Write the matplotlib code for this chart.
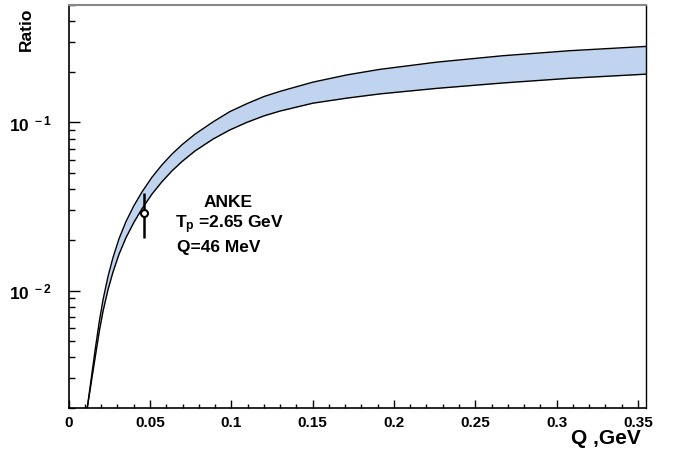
import math
import matplotlib
matplotlib.use('Agg')
import matplotlib.pyplot as plt
from matplotlib.ticker import MultipleLocator, LogLocator, FuncFormatter, NullFormatter

plt.rcParams['font.family'] = ['Liberation Sans', 'DejaVu Sans']
plt.rcParams['font.weight'] = 'bold'
plt.rcParams['mathtext.fontset'] = 'custom'
plt.rcParams['mathtext.rm'] = 'Liberation Sans:bold'
plt.rcParams['mathtext.it'] = 'Liberation Sans:bold'
plt.rcParams['mathtext.bf'] = 'Liberation Sans:bold'

# Q grid (GeV) shared by both edges of the band
band_q = [0.0114, 0.0162, 0.0188, 0.0211, 0.0242, 0.0272, 0.0309, 0.0352, 0.0401,
          0.0451, 0.0512, 0.0573, 0.0635, 0.0696, 0.0776, 0.0887, 0.0990, 0.1096,
          0.1200, 0.1299, 0.1502, 0.1711, 0.1913, 0.2264, 0.2669, 0.3081, 0.3560]
# upper edge of the band
upper_r = [0.0020, 0.00440, 0.00653, 0.00881, 0.01216, 0.01567, 0.02028, 0.02570, 0.03199,
           0.03864, 0.04721, 0.05585, 0.06486, 0.07362, 0.08511, 0.1007, 0.1159, 0.1294,
           0.1426, 0.1531, 0.1738, 0.1919, 0.2070, 0.2286, 0.2495, 0.2673, 0.2838]
# lower edge of the band
lower_r = [0.0020, 0.00396, 0.00571, 0.00753, 0.01016, 0.01285, 0.01641, 0.02061, 0.02547,
           0.03069, 0.03750, 0.04436, 0.05152, 0.05848, 0.06761, 0.0796, 0.0902, 0.1002,
           0.1094, 0.1169, 0.1303, 0.1396, 0.1479, 0.1596, 0.1718, 0.1832, 0.1941]

# ANKE point
anke_q = [0.046]
anke_r = [0.029]
anke_err_lo = [0.0086]
anke_err_hi = [0.0088]

fig = plt.figure(figsize=(6.83, 4.59), dpi=100)
ax = fig.add_axes([0.1006, 0.1111, 0.8452, 0.878])

ax.fill_between(band_q, lower_r, upper_r, color='#c0d4ef', lw=0)
ax.plot(band_q, upper_r, color='black', lw=1.0)
ax.plot(band_q, lower_r, color='black', lw=1.0)

ax.errorbar(anke_q, anke_r, yerr=[anke_err_lo, anke_err_hi], fmt='o', ms=5,
            mfc='white', mec='black', mew=1.5, ecolor='black', elinewidth=1.8, capsize=0)

ax.set_yscale('log')
ax.set_xlim(0, 0.355)
ax.set_ylim(0.002, 0.5)

ax.xaxis.set_major_locator(MultipleLocator(0.05))
ax.xaxis.set_minor_locator(MultipleLocator(0.01))
ax.xaxis.set_major_formatter(FuncFormatter(lambda v, p: '%g' % round(v, 3)))
ax.yaxis.set_major_locator(LogLocator(base=10))
ax.yaxis.set_minor_locator(LogLocator(base=10, subs=range(2, 10)))
ax.yaxis.set_minor_formatter(NullFormatter())

def ylab(v, p):
    e = int(round(math.log10(v)))
    return r'$10^{\ %d}$' % e

ax.yaxis.set_major_formatter(FuncFormatter(ylab))

ax.tick_params(axis='x', which='major', direction='in', length=6, width=1, labelsize=11, pad=6, top=False)
ax.tick_params(axis='x', which='minor', direction='in', length=3, width=1, top=False)
ax.tick_params(axis='y', which='major', direction='in', length=8, width=1, labelsize=12.5, pad=12, right=False)
ax.tick_params(axis='y', which='minor', direction='in', length=4.5, width=1, right=False)

ax.spines['left'].set_linewidth(1.2)
ax.spines['bottom'].set_linewidth(1.2)
ax.spines['right'].set_linewidth(1.0)
ax.spines['top'].set_color('#888888')
ax.spines['top'].set_linewidth(1.5)

fig.text(0.038, 0.984, 'Ratio', rotation=90, ha='center', va='top', fontsize=12.5, fontweight='bold')
fig.text(0.938, 0.044, 'Q ,GeV', ha='right', va='center', fontsize=15, fontweight='bold')

ax.text(0.0977, 0.0334, 'ANKE', ha='center', va='center', fontsize=12.5, fontweight='bold')
ax.text(0.0653, 0.0247, r'T$_{\mathrm{p}}$ =2.65 GeV', ha='left', va='center', fontsize=12.5, fontweight='bold')
ax.text(0.0666, 0.0180, 'Q=46 MeV', ha='left', va='center', fontsize=12.5, fontweight='bold')

fig.savefig('out.png', dpi=100)
